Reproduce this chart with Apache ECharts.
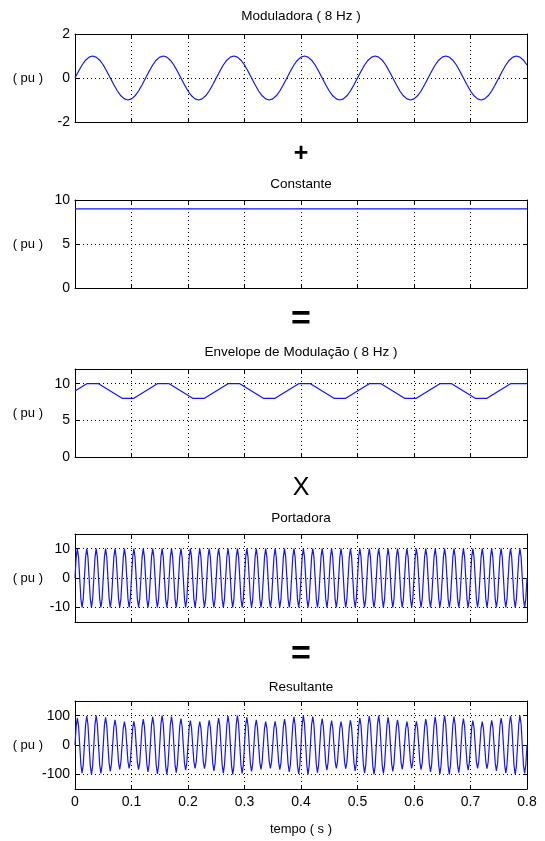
<!DOCTYPE html>
<html>
<head>
<meta charset="utf-8">
<script src="https://cdn.jsdelivr.net/npm/echarts@6/dist/echarts.min.js"></script>
<style>
html, body { margin: 0; padding: 0; background: #fff; }
#chart { width: 545px; height: 841px; }
</style>
</head>
<body>
<div id="chart"></div>
<script>
// eixo do tempo (s)
const timeTicks = [0, 0.1, 0.2, 0.3, 0.4, 0.5, 0.6, 0.7, 0.8]
const panelTitles = ['Moduladora ( 8 Hz )', 'Constante', 'Envelope de Modulação ( 8 Hz )', 'Portadora', 'Resultante']
const operators = ['+', '=', 'X', '=']
const yRanges = [[-2, 2], [0, 10], [0, 12], [-15, 15], [-150, 150]]
const yTicks = [[-2, 0, 2], [0, 5, 10], [0, 5, 10], [-10, 0, 10], [-100, 0, 100]]

// moduladora 8 Hz, amostras a cada 1/160 s
const modStep = 0.00625
const modValues = [
  0, 0.31, 0.59, 0.81, 0.95, 1, 0.95, 0.81, 0.59, 0.31, 0, -0.31, -0.59, -0.81, -0.95, -1, -0.95, -0.81, -0.59, -0.31,
  0, 0.31, 0.59, 0.81, 0.95, 1, 0.95, 0.81, 0.59, 0.31, 0, -0.31, -0.59, -0.81, -0.95, -1, -0.95, -0.81, -0.59, -0.31,
  0, 0.31, 0.59, 0.81, 0.95, 1, 0.95, 0.81, 0.59, 0.31, 0, -0.31, -0.59, -0.81, -0.95, -1, -0.95, -0.81, -0.59, -0.31,
  0, 0.31, 0.59, 0.81, 0.95, 1, 0.95, 0.81, 0.59, 0.31, 0, -0.31, -0.59, -0.81, -0.95, -1, -0.95, -0.81, -0.59, -0.31,
  0, 0.31, 0.59, 0.81, 0.95, 1, 0.95, 0.81, 0.59, 0.31, 0, -0.31, -0.59, -0.81, -0.95, -1, -0.95, -0.81, -0.59, -0.31,
  0, 0.31, 0.59, 0.81, 0.95, 1, 0.95, 0.81, 0.59, 0.31, 0, -0.31, -0.59, -0.81, -0.95, -1, -0.95, -0.81, -0.59, -0.31,
  0, 0.31, 0.59, 0.81, 0.95, 1, 0.95, 0.81, 0.59
]

// constante
const constStep = 0.8
const constValues = [9, 9]

// envelope, amostras a cada 1/48 s
const envStep = 1 / 48
const envValues = [
  9, 10, 10, 9, 8, 8,
  9, 10, 10, 9, 8, 8,
  9, 10, 10, 9, 8, 8,
  9, 10, 10, 9, 8, 8,
  9, 10, 10, 9, 8, 8,
  9, 10, 10, 9, 8, 8,
  9, 10, 10, 10
]

// portadora 60 Hz, amostras a cada 1/480 s
const carStep = 1 / 480
const carValues = [
  0, 7.1, 10, 7.1, 0, -7.1, -10, -7.1, 0, 7.1, 10, 7.1, 0, -7.1, -10, -7.1,
  0, 7.1, 10, 7.1, 0, -7.1, -10, -7.1, 0, 7.1, 10, 7.1, 0, -7.1, -10, -7.1,
  0, 7.1, 10, 7.1, 0, -7.1, -10, -7.1, 0, 7.1, 10, 7.1, 0, -7.1, -10, -7.1,
  0, 7.1, 10, 7.1, 0, -7.1, -10, -7.1, 0, 7.1, 10, 7.1, 0, -7.1, -10, -7.1,
  0, 7.1, 10, 7.1, 0, -7.1, -10, -7.1, 0, 7.1, 10, 7.1, 0, -7.1, -10, -7.1,
  0, 7.1, 10, 7.1, 0, -7.1, -10, -7.1, 0, 7.1, 10, 7.1, 0, -7.1, -10, -7.1,
  0, 7.1, 10, 7.1, 0, -7.1, -10, -7.1, 0, 7.1, 10, 7.1, 0, -7.1, -10, -7.1,
  0, 7.1, 10, 7.1, 0, -7.1, -10, -7.1, 0, 7.1, 10, 7.1, 0, -7.1, -10, -7.1,
  0, 7.1, 10, 7.1, 0, -7.1, -10, -7.1, 0, 7.1, 10, 7.1, 0, -7.1, -10, -7.1,
  0, 7.1, 10, 7.1, 0, -7.1, -10, -7.1, 0, 7.1, 10, 7.1, 0, -7.1, -10, -7.1,
  0, 7.1, 10, 7.1, 0, -7.1, -10, -7.1, 0, 7.1, 10, 7.1, 0, -7.1, -10, -7.1,
  0, 7.1, 10, 7.1, 0, -7.1, -10, -7.1, 0, 7.1, 10, 7.1, 0, -7.1, -10, -7.1,
  0, 7.1, 10, 7.1, 0, -7.1, -10, -7.1, 0, 7.1, 10, 7.1, 0, -7.1, -10, -7.1,
  0, 7.1, 10, 7.1, 0, -7.1, -10, -7.1, 0, 7.1, 10, 7.1, 0, -7.1, -10, -7.1,
  0, 7.1, 10, 7.1, 0, -7.1, -10, -7.1, 0, 7.1, 10, 7.1, 0, -7.1, -10, -7.1,
  0, 7.1, 10, 7.1, 0, -7.1, -10, -7.1, 0, 7.1, 10, 7.1, 0, -7.1, -10, -7.1,
  0, 7.1, 10, 7.1, 0, -7.1, -10, -7.1, 0, 7.1, 10, 7.1, 0, -7.1, -10, -7.1,
  0, 7.1, 10, 7.1, 0, -7.1, -10, -7.1, 0, 7.1, 10, 7.1, 0, -7.1, -10, -7.1,
  0, 7.1, 10, 7.1, 0, -7.1, -10, -7.1, 0, 7.1, 10, 7.1, 0, -7.1, -10, -7.1,
  0, 7.1, 10, 7.1, 0, -7.1, -10, -7.1, 0, 7.1, 10, 7.1, 0, -7.1, -10, -7.1,
  0, 7.1, 10, 7.1, 0, -7.1, -10, -7.1, 0, 7.1, 10, 7.1, 0, -7.1, -10, -7.1,
  0, 7.1, 10, 7.1, 0, -7.1, -10, -7.1, 0, 7.1, 10, 7.1, 0, -7.1, -10, -7.1,
  0, 7.1, 10, 7.1, 0, -7.1, -10, -7.1, 0, 7.1, 10, 7.1, 0, -7.1, -10, -7.1,
  0, 7.1, 10, 7.1, 0, -7.1, -10, -7.1, 0, 7.1, 10, 7.1, 0, -7.1, -10, -7.1,
  0
]

// resultante, mesmas amostras da portadora
const resStep = 1 / 480
const resValues = [
  0, 64, 92, 66, 0, -67, -96, -68, 0, 69, 99, 70, 0, -71, -100, -71, 0, 71, 100, 70, 0, -69, -97, -68, 0, 67, 94, 66, 0, -64, -90, -63,
  0, 61, 86, 60, 0, -59, -83, -58, 0, 57, 80, 57, 0, -57, -80, -57, 0, 57, 81, 58, 0, -59, -84, -60, 0, 61, 88, 63,
  0, -64, -92, -66, 0, 67, 96, 68, 0, -69, -99, -70, 0, 71, 100, 71, 0, -71, -100, -70, 0, 69, 97, 68, 0, -67, -94, -66, 0, 64, 90, 63,
  0, -61, -86, -60, 0, 59, 83, 58, 0, -57, -80, -57, 0, 57, 80, 57, 0, -57, -81, -58, 0, 59, 84, 60, 0, -61, -88, -63,
  0, 64, 92, 66, 0, -67, -96, -68, 0, 69, 99, 70, 0, -71, -100, -71, 0, 71, 100, 70, 0, -69, -97, -68, 0, 67, 94, 66, 0, -64, -90, -63,
  0, 61, 86, 60, 0, -59, -83, -58, 0, 57, 80, 57, 0, -57, -80, -57, 0, 57, 81, 58, 0, -59, -84, -60, 0, 61, 88, 63,
  0, -64, -92, -66, 0, 67, 96, 68, 0, -69, -99, -70, 0, 71, 100, 71, 0, -71, -100, -70, 0, 69, 97, 68, 0, -67, -94, -66, 0, 64, 90, 63,
  0, -61, -86, -60, 0, 59, 83, 58, 0, -57, -80, -57, 0, 57, 80, 57, 0, -57, -81, -58, 0, 59, 84, 60, 0, -61, -88, -63,
  0, 64, 92, 66, 0, -67, -96, -68, 0, 69, 99, 70, 0, -71, -100, -71, 0, 71, 100, 70, 0, -69, -97, -68, 0, 67, 94, 66, 0, -64, -90, -63,
  0, 61, 86, 60, 0, -59, -83, -58, 0, 57, 80, 57, 0, -57, -80, -57, 0, 57, 81, 58, 0, -59, -84, -60, 0, 61, 88, 63,
  0, -64, -92, -66, 0, 67, 96, 68, 0, -69, -99, -70, 0, 71, 100, 71, 0, -71, -100, -70, 0, 69, 97, 68, 0, -67, -94, -66, 0, 64, 90, 63,
  0, -61, -86, -60, 0, 59, 83, 58, 0, -57, -80, -57, 0, 57, 80, 57, 0, -57, -81, -58, 0, 59, 84, 60, 0, -61, -88, -63,
  0, 64, 92, 66, 0, -67, -96, -68, 0, 69, 99, 70, 0, -71, -100, -71, 0, 71, 100, 70, 0, -69, -97, -68, 0
]

const font = 'Liberation Sans'
const black = '#000'
const blue = '#1414f5'

// posicao dos paineis (px)
const gridTops = [34, 200, 369, 534, 701]
const gridHeight = 88
const titleY = [16, 184, 352, 518, 687]
const opY = [154, 320, 488, 655]

function toPairs(values, step) {
  return values.map((v, i) => [Math.min(i * step, 0.8), v])
}

const seriesSrc = [
  [modValues, modStep],
  [constValues, constStep],
  [envValues, envStep],
  [carValues, carStep],
  [resValues, resStep]
]

const grids = []
const xAxes = []
const yAxes = []
const series = []
const titles = []

for (let k = 0; k < 5; k++) {
  grids.push({
    left: 75,
    right: 18,
    top: gridTops[k],
    height: gridHeight,
    outerBoundsMode: 'none'
  })
  const last = k === 4
  xAxes.push({
    gridIndex: k,
    type: 'value',
    min: 0,
    max: 0.8,
    interval: 0.1,
    axisLine: { show: true, onZero: false, lineStyle: { color: black, width: 1 } },
    axisTick: { show: true, inside: true, length: 4, lineStyle: { color: black } },
    axisLabel: { show: last, color: black, fontSize: 14, fontFamily: font, margin: 6 },
    splitLine: { show: true, lineStyle: { color: black, width: 1, type: [1, 3] } },
    name: last ? 'tempo ( s )' : '',
    nameLocation: 'middle',
    nameGap: 34,
    nameMoveOverlap: false,
    nameTextStyle: { color: black, fontSize: 13, fontFamily: font }
  })
  xAxes.push({
    gridIndex: k,
    type: 'value',
    position: 'top',
    min: 0,
    max: 0.8,
    interval: 0.1,
    axisLine: { show: true, onZero: false, lineStyle: { color: black, width: 1 } },
    axisTick: { show: true, inside: true, length: 4, lineStyle: { color: black } },
    axisLabel: { show: false },
    splitLine: { show: false }
  })
  yAxes.push({
    gridIndex: k,
    type: 'value',
    min: yRanges[k][0],
    max: yRanges[k][1],
    axisLine: { show: true, onZero: false, lineStyle: { color: black, width: 1 } },
    axisTick: { show: true, inside: true, length: 4, customValues: yTicks[k], lineStyle: { color: black } },
    axisLabel: { show: true, customValues: yTicks[k], color: black, fontSize: 14, fontFamily: font, margin: 5 },
    splitLine: { show: true, lineStyle: { color: black, width: 1, type: [1, 3] } },
    name: '( pu )',
    nameLocation: 'middle',
    nameRotate: 0,
    nameGap: 32,
    nameMoveOverlap: false,
    nameTextStyle: { color: black, fontSize: 13, fontFamily: font }
  })
  yAxes.push({
    gridIndex: k,
    type: 'value',
    position: 'right',
    min: yRanges[k][0],
    max: yRanges[k][1],
    axisLine: { show: true, onZero: false, lineStyle: { color: black, width: 1 } },
    axisTick: { show: true, inside: true, length: 4, customValues: yTicks[k], lineStyle: { color: black } },
    axisLabel: { show: false },
    splitLine: { show: false }
  })
  series.push({
    type: 'line',
    xAxisIndex: 2 * k,
    yAxisIndex: 2 * k,
    data: toPairs(seriesSrc[k][0], seriesSrc[k][1]),
    showSymbol: false,
    symbol: 'none',
    clip: true,
    lineStyle: { color: blue, width: 1.2 },
    z: 3
  })
  titles.push({
    text: panelTitles[k],
    left: 301,
    top: titleY[k],
    padding: 0,
    textAlign: 'center',
    textVerticalAlign: 'middle',
    textStyle: { color: black, fontSize: 13.5, fontWeight: 'normal', fontFamily: font }
  })
}

operators.forEach((op, i) => {
  titles.push({
    text: op,
    left: 301,
    top: opY[i],
    padding: 0,
    textAlign: 'center',
    textVerticalAlign: 'middle',
    textStyle: {
      color: black,
      fontSize: op === '=' ? 34 : 25,
      fontWeight: op === 'X' ? 'normal' : 'bold',
      fontFamily: font
    }
  })
})

const myChart = echarts.init(document.getElementById('chart'))
myChart.setOption({
  backgroundColor: '#ffffff',
  animation: false,
  title: titles,
  grid: grids,
  xAxis: xAxes,
  yAxis: yAxes,
  series: series
})
</script>
</body>
</html>
